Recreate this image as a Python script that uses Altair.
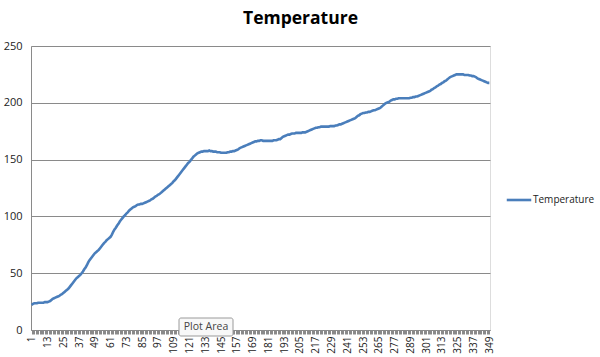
import altair as alt
import pandas as pd

series_name = "Temperature"
temperature = [
    22, 23, 23.5, 23.5, 23.5, 24, 24, 24, 24, 24, 24.5, 24.5,
    24.5, 25, 25.5, 26.5, 27.5, 28, 28.5, 29, 29.5, 30, 31, 31.5,
    32.5, 33.5, 34.5, 35.5, 36.5, 38, 39.5, 41, 42.5, 44, 45.5, 46.5,
    47.5, 48.5, 50, 51.5, 53.5, 55, 57, 59.5, 61.5, 63, 64.5, 66,
    67.5, 68.5, 69.5, 70.5, 72, 73.5, 75, 76.5, 77.5, 79, 80, 81,
    82, 84, 86.5, 88.5, 90, 92, 93.5, 95.5, 97, 98.5, 100, 101,
    102.5, 103.5, 105, 106, 107, 108, 108.5, 109, 110, 110.5, 110.5, 111,
    111, 111.5, 112, 112.5, 113, 113.5, 114, 115, 115.5, 116.5, 117.5, 118,
    119, 119.5, 120.5, 121.5, 122.5, 123.5, 124.5, 125.5, 126.5, 127.5, 128.5, 129.5,
    131, 132, 133.5, 135, 136.5, 138, 139.5, 141, 142.5, 144, 145.5, 147,
    148, 149.5, 151, 152.5, 153.5, 154.5, 155.5, 156, 156.5, 157, 157, 157.5,
    157.5, 157.5, 157.5, 158, 157.5, 157.5, 157, 157, 157, 156.5, 156.5, 156.5,
    156, 156, 156, 156, 156, 156.5, 156.5, 157, 157, 157.5, 157.5, 158,
    158.5, 159, 160, 160.5, 161, 161.5, 162, 162.5, 163, 163.5, 164, 164.5,
    165, 165.5, 166, 166, 166.5, 166.5, 167, 167, 166.5, 166.5, 166.5, 166.5,
    166.5, 166.5, 166.5, 166.5, 167, 167, 167, 167.5, 168, 168, 169, 170,
    170.5, 171, 171.5, 172, 172, 172.5, 173, 173, 173, 173.5, 173.5, 173.5,
    173.5, 173.5, 174, 174, 174, 174.5, 175, 175.5, 176, 176.5, 177, 177.5,
    178, 178, 178.5, 178.5, 179, 179, 179, 179, 179, 179, 179, 179.5,
    179.5, 179.5, 179.5, 180, 180, 180.5, 181, 181, 181.5, 182, 182.5, 183,
    183.5, 184, 184.5, 185, 185.5, 186, 186.5, 187.5, 188.5, 189, 190, 190.5,
    191, 191, 191.5, 191.5, 192, 192, 192.5, 193, 193.5, 193.5, 194, 194.5,
    195, 195.5, 196.5, 197.5, 198.5, 199.5, 200, 200.5, 201, 202, 202.5, 203,
    203, 203.5, 203.5, 204, 204, 204, 204, 204, 204, 204, 204, 204,
    204.5, 204.5, 205, 205, 205.5, 205.5, 206, 206.5, 207, 207.5, 208, 208.5,
    209, 209.5, 210, 210.5, 211.5, 212, 213, 213.5, 214.5, 215, 216, 216.5,
    217.5, 218, 219, 219.5, 220.5, 221.5, 222.5, 223, 223.5, 224, 224.5, 225,
    225, 225, 225, 225, 225, 224.5, 224.5, 224.5, 224.5, 224, 224, 223.5,
    223.5, 223, 222.5, 221.5, 221, 220.5, 220, 219.5, 219, 218.5, 218, 217.5,
    217.5,
]
sample_index = list(range(1, len(temperature) + 1))
y_ticks = [0, 50, 100, 150, 200, 250]

df = pd.DataFrame({"idx": sample_index, "value": temperature, "series": series_name})

FONT = "Open Sans"
GRID = "#8a8a8a"

line = alt.Chart(df).mark_line(strokeWidth=2.6).encode(
    x=alt.X(
        "idx:O",
        scale=alt.Scale(type="point", padding=0.5),
        axis=alt.Axis(
            title=None,
            labelAngle=270,
            labelExpr="(datum.value - 1) % 12 == 0 ? datum.label : ''",
            labelOverlap=False,
            labelFontSize=10,
            labelFont=FONT,
            labelColor="#222222",
            labelPadding=2,
            tickSize=4,
            tickColor=GRID,
            tickWidth=1,
            domainColor=GRID,
            grid=False,
        ),
    ),
    y=alt.Y(
        "value:Q",
        scale=alt.Scale(domain=[0, 250], nice=False),
        axis=alt.Axis(
            title=None,
            values=y_ticks,
            ticks=False,
            labelPadding=9,
            labelFontSize=11,
            labelFont=FONT,
            labelColor="#222222",
            domainColor=GRID,
            gridColor=GRID,
            gridWidth=1,
        ),
    ),
    color=alt.Color(
        "series:N",
        scale=alt.Scale(range=["#4a7ebb"]),
        legend=alt.Legend(
            title=None,
            orient="none",
            legendX=474,
            legendY=140,
            symbolType="stroke",
            symbolStrokeWidth=2.6,
            symbolSize=600,
            labelFont=FONT,
            labelFontSize=10,
            labelColor="#222222",
            labelOffset=0,
        ),
    ),
)

tip_box = alt.Chart(pd.DataFrame({"t": ["Plot Area"]})).mark_rect(
    fill="#f8f8f8", stroke="#9a9a9a", strokeWidth=1, cornerRadius=2
).encode(
    x=alt.value(148), x2=alt.value(202), y=alt.value(272), y2=alt.value(290)
)
tip_text = alt.Chart(pd.DataFrame({"t": ["Plot Area"]})).mark_text(
    font=FONT, fontSize=10.5, color="#444444", align="center", baseline="middle"
).encode(x=alt.value(175), y=alt.value(281), text="t:N")

chart = alt.layer(line, tip_box, tip_text).properties(
    width=459,
    height=284,
    title=alt.TitleParams(
        "Temperature", font=FONT, fontSize=17.5, fontWeight="bold",
        color="#000000", anchor="middle", dx=40, offset=13,
    ),
    autosize=alt.AutoSizeParams(type="none"),
    padding={"left": 31, "top": 46, "right": 110, "bottom": 27},
).configure_view(stroke=None).configure(background="#ffffff")

chart.save("out.html", embed_options={"renderer": "svg", "actions": False})
